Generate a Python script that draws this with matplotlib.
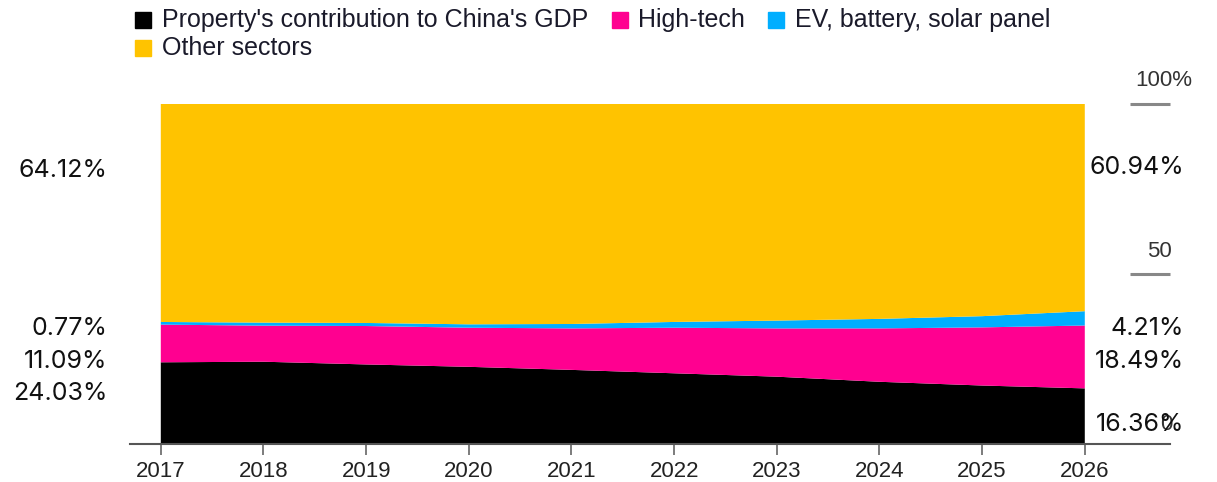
import numpy as np
import matplotlib.pyplot as plt
from matplotlib.patches import Rectangle

years = [2017, 2018, 2019, 2020, 2021, 2022, 2023, 2024, 2025, 2026]
property_share = [24.03, 24.2, 23.4, 22.7, 21.8, 20.8, 19.8, 18.3, 17.2, 16.36]
hightech_share = [11.09, 10.6, 11.3, 11.5, 12.2, 13.4, 14.2, 15.7, 17.1, 18.49]
ev_share = [0.77, 0.9, 0.9, 1.0, 1.3, 1.7, 2.3, 2.8, 3.3, 4.21]
other_share = [100 - a - b - c for a, b, c in zip(property_share, hightech_share, ev_share)]

series_names = ["Property's contribution to China's GDP", "High-tech",
                "EV, battery, solar panel", "Other sectors"]
colors = ["#000000", "#FF0090", "#00AEFF", "#FFC300"]

left_labels = ["24.03%", "11.09%", "0.77%", "64.12%"]
right_labels = ["16.36%", "18.49%", "4.21%", "60.94%"]
left_label_y = [15.0, 24.4, 34.1, 80.3]
right_label_y = [5.6, 24.4, 34.1, 81.2]

W, H = 1217, 482
fig = plt.figure(figsize=(W / 100, H / 100), dpi=100)
ax = fig.add_axes([130 / W, (H - 444) / H, 1040 / W, 340 / H])

ax.stackplot(years, property_share, hightech_share, ev_share, other_share,
             colors=colors, linewidth=0)

ax.set_xlim(2016.7, 2026.83)
ax.set_ylim(0, 100)
for s in ["left", "right", "top"]:
    ax.spines[s].set_visible(False)
ax.spines["bottom"].set_color("#555555")
ax.spines["bottom"].set_linewidth(1.5)
ax.set_xticks(years)
ax.set_xticklabels([str(y) for y in years], fontsize=16, family="Liberation Sans",
                   color="#222222")
ax.tick_params(axis="x", length=8, width=1.2, color="#666666", pad=4)
ax.set_yticks([])

# right-side scale
for yv, lab, ly, lx in [(100, "100%", 107, 2027.05), (50, "50", 56.5, 2026.85),
                        (0, "0", 5.6, 2026.85)]:
    if yv > 0:
        ax.plot([2026.44, 2026.83], [yv, yv], color="#888888", lw=2.2,
                clip_on=False, solid_capstyle="butt")
    ax.text(lx, ly, lab, ha="right", va="center", fontsize=16,
            family="Liberation Sans", color="#333333", clip_on=False)

for lab, y in zip(left_labels, left_label_y):
    ax.text(2016.48, y, lab, ha="right", va="center", fontsize=18,
            family="Inter", color="#111111", clip_on=False)
for lab, y in zip(right_labels, right_label_y):
    ax.text(2026.97, y, lab, ha="right", va="center", fontsize=18,
            family="Inter", color="#111111", clip_on=False)

# legend
legend_pos = [(135, 624, 20), (612, 638, 20), (768, 795, 20), (135, 162, 48)]
legend_pos = [(135, 162, 20), (612, 638, 20), (768, 795, 20), (135, 162, 48)]
for name, col, (sx, tx, py) in zip(series_names, colors, legend_pos):
    fig.patches.append(Rectangle((sx / W, (H - py - 8) / H), 16 / W, 16 / H,
                                 transform=fig.transFigure, color=col))
    fig.text(tx / W, (H - py) / H, name, ha="left", va="center",
             fontsize=18, family="Liberation Sans", color="#1a1a2a")

fig.savefig("out.png", dpi=100)
